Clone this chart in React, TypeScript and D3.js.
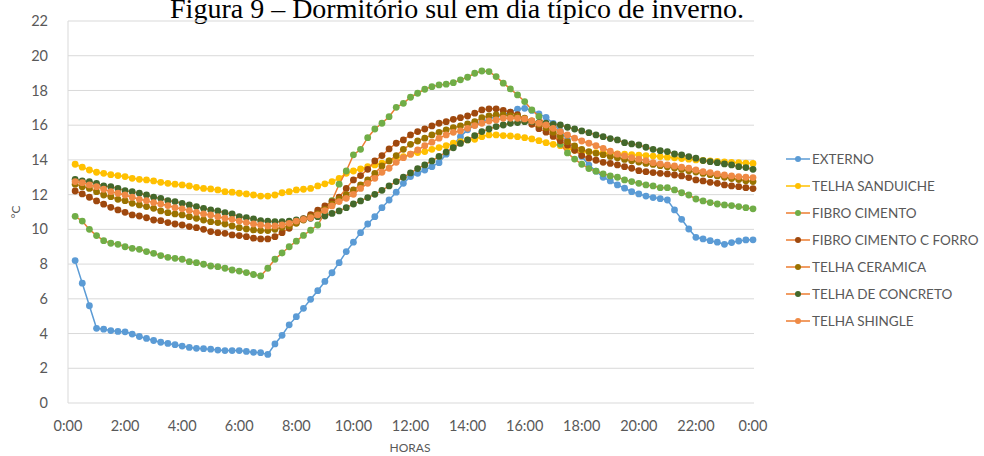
import React from "react";
import * as d3 from "d3";

// Readings every 15 minutes, from 0:15 to 24:00 (96 per series)
const externo = [
  8.2, 6.9, 5.6, 4.3, 4.25, 4.17, 4.12, 4.1, 3.97, 3.83, 3.72, 3.6, 3.5, 3.43, 3.36, 3.28, 3.2, 3.15, 3.13,
  3.1, 3.05, 3.02, 3.02, 3.02, 2.97, 2.92, 2.9, 2.8, 3.4, 3.9, 4.5, 4.97, 5.45, 5.97, 6.47, 7.0, 7.5, 8.08,
  8.72, 9.26, 9.81, 10.31, 10.73, 11.25, 11.69, 12.14, 12.65, 13.04, 13.23, 13.42, 13.61, 13.84, 14.33, 14.86, 15.34, 15.73,
  16.0, 16.2, 16.35, 16.5, 16.6, 16.75, 16.93, 16.97, 16.85, 16.65, 16.45, 16.1, 15.65, 15.15, 14.65, 14.2, 13.7, 13.35, 13.0,
  12.79, 12.56, 12.37, 12.17, 12.04, 11.92, 11.83, 11.77, 11.69, 11.12, 10.58, 10.02, 9.54, 9.45, 9.35, 9.26, 9.14, 9.24, 9.33, 9.39, 9.4,
];

const telhaSanduiche = [
  13.75, 13.58, 13.42, 13.29, 13.23, 13.15, 13.1, 13.04, 12.94, 12.88, 12.85, 12.79, 12.71, 12.65, 12.6, 12.56, 12.5, 12.42, 12.36,
  12.33, 12.27, 12.17, 12.14, 12.08, 12.04, 11.98, 11.92, 11.92, 11.98, 12.11, 12.17, 12.27, 12.31, 12.36, 12.5, 12.62, 12.75, 12.94,
  13.23, 13.36, 13.48, 13.61, 13.71, 13.81, 13.94, 14.1, 14.19, 14.33, 14.42, 14.48, 14.61, 14.71, 14.82, 14.96, 15.05, 15.15, 15.19,
  15.34, 15.44, 15.44, 15.4, 15.38, 15.34, 15.28, 15.21, 15.11, 14.99, 14.9, 14.82,
  14.65, 14.55, 14.5, 14.45, 14.42, 14.4, 14.38, 14.35, 14.33, 14.3, 14.28, 14.25, 14.22, 14.19, 14.16, 14.12, 14.08, 14.04, 14.0,
  13.97, 13.94, 13.91, 13.88, 13.86, 13.84, 13.82, 13.8,
];

const fibroCimento = [
  10.75, 10.48, 10.0, 9.64, 9.35, 9.2, 9.14, 9.0, 8.91, 8.85, 8.72, 8.62, 8.49, 8.39, 8.33, 8.28, 8.14, 8.08, 7.99,
  7.89, 7.85, 7.76, 7.66, 7.6, 7.51, 7.4, 7.32,
  7.76, 8.28, 8.64, 9.0, 9.32, 9.65, 9.95, 10.25, 10.95, 11.65, 12.6,
  13.36, 14.29, 14.61, 15.28, 15.78, 16.11, 16.49, 17.03, 17.26, 17.61, 17.84, 18.07, 18.22, 18.32, 18.36, 18.45, 18.61, 18.76, 18.99,
  19.12, 19.09, 18.8, 18.42, 18.09, 17.74, 17.36, 16.88, 16.5, 16.0, 15.45, 14.9, 14.4, 14.05, 13.75, 13.5, 13.35, 13.2, 13.08,
  13.0, 12.85, 12.75, 12.65, 12.56, 12.5, 12.4, 12.4, 12.27, 12.11, 11.98, 11.75, 11.64, 11.54, 11.46, 11.41, 11.37, 11.31, 11.25, 11.18,
];

const fibroCimentoForro = [
  12.21, 12.04, 11.85, 11.64, 11.45, 11.27, 11.12, 10.98, 10.83, 10.77, 10.67, 10.54, 10.5, 10.39, 10.31, 10.25, 10.16, 10.1, 10.0,
  9.87, 9.81, 9.77, 9.68, 9.64, 9.58, 9.49, 9.45, 9.45,
  9.58, 9.81, 10.06, 10.4, 10.62, 10.85, 11.1, 11.35, 11.6, 11.85,
  12.36, 12.85, 13.1, 13.46, 13.94, 14.25, 14.63, 14.96, 15.15, 15.44, 15.63, 15.78, 15.96, 16.11, 16.2, 16.34, 16.43, 16.53, 16.69,
  16.88, 16.94, 16.94, 16.85, 16.75, 16.6, 16.35, 16.05, 15.8, 15.6, 15.35, 15.1, 14.85, 14.55, 14.25, 14.1, 13.98, 13.86, 13.8,
  13.71, 13.61, 13.52, 13.38, 13.32, 13.27, 13.23, 13.19, 13.13, 13.08, 12.98, 12.85, 12.79, 12.71, 12.65, 12.56, 12.5, 12.46, 12.4, 12.35,
];

const telhaCeramica = [
  12.6, 12.46, 12.36, 12.17, 11.98, 11.88, 11.73, 11.65, 11.5, 11.41, 11.31, 11.21, 11.06, 10.96, 10.89, 10.83, 10.73, 10.64, 10.54,
  10.44, 10.39, 10.31, 10.2, 10.1, 10.02, 9.97, 9.93, 9.93,
  10.0, 10.12, 10.2, 10.35, 10.54, 10.73, 10.89, 11.15, 11.45, 11.75,
  12.0, 12.27, 12.56, 12.85, 13.23, 13.65, 13.94, 14.25, 14.61, 14.9, 15.09, 15.25, 15.44, 15.59, 15.73, 15.86, 15.96, 16.07, 16.2,
  16.43, 16.53, 16.59, 16.59, 16.55, 16.5, 16.4, 16.25, 16.05, 15.85, 15.6, 15.35, 15.05, 14.8, 14.6, 14.48, 14.38, 14.3,
  14.2, 14.12, 14.03, 13.95, 13.88, 13.8, 13.74, 13.67, 13.6, 13.53, 13.45, 13.38, 13.3, 13.22, 13.15, 13.08, 13.0, 12.93, 12.87, 12.8, 12.75,
];

const telhaConcreto = [
  12.88, 12.79, 12.75, 12.65, 12.5, 12.46, 12.36, 12.23, 12.17, 12.08, 11.98, 11.85, 11.79, 11.65, 11.6, 11.5, 11.41, 11.31, 11.21,
  11.12, 11.06, 10.96, 10.89, 10.73, 10.67, 10.6, 10.5, 10.48, 10.44, 10.44, 10.48, 10.54, 10.6, 10.64, 10.73, 10.77, 10.92, 11.06,
  11.25, 11.46, 11.64, 11.83, 12.02, 12.25, 12.5, 12.75, 13.0, 13.25, 13.5, 13.71, 13.94, 14.2, 14.45, 14.7, 14.95, 15.15, 15.4,
  15.63, 15.78, 15.92, 16.01, 16.11, 16.15, 16.2, 16.2, 16.15, 16.11, 16.05, 16.01, 15.88, 15.78, 15.67, 15.57, 15.44, 15.34, 15.23,
  15.15, 14.99, 14.92, 14.86, 14.73, 14.61, 14.53, 14.48, 14.34, 14.29, 14.19, 14.1, 13.96, 13.9, 13.84, 13.77, 13.71, 13.61, 13.56, 13.46,
];

const telhaShingle = [
  12.75, 12.69, 12.56, 12.46, 12.31, 12.17, 12.08, 11.98, 11.85, 11.73, 11.65, 11.54, 11.46, 11.37, 11.25, 11.18, 11.08, 10.98, 10.89,
  10.83, 10.73, 10.64, 10.58, 10.48, 10.39, 10.31, 10.25, 10.2, 10.2, 10.25, 10.35, 10.48, 10.58, 10.67, 10.83, 11.08, 11.35, 11.6,
  11.79, 12.02, 12.36, 12.65, 12.94, 13.29, 13.52, 13.86, 14.13, 14.33, 14.57, 14.82, 15.02, 15.25, 15.44, 15.59, 15.67, 15.82, 15.98,
  16.11, 16.24, 16.3, 16.4, 16.4, 16.4, 16.36, 16.24, 16.11, 16.01, 15.82, 15.63, 15.44, 15.25, 15.09, 14.96, 14.82, 14.67, 14.5,
  14.33, 14.23, 14.13, 14.04, 13.96, 13.84, 13.77, 13.71, 13.65, 13.58, 13.52, 13.42, 13.32, 13.27, 13.19, 13.13, 13.08, 13.04, 13.0, 12.98,
];

const seriesNames = [
  "EXTERNO",
  "TELHA SANDUICHE",
  "FIBRO CIMENTO",
  "FIBRO CIMENTO C FORRO",
  "TELHA CERAMICA",
  "TELHA DE CONCRETO",
  "TELHA SHINGLE",
];
const seriesValues = [
  externo,
  telhaSanduiche,
  fibroCimento,
  fibroCimentoForro,
  telhaCeramica,
  telhaConcreto,
  telhaShingle,
];
const lineColors = ["#5B9BD5", "#FFC000", "#ED7D31", "#ED7D31", "#ED7D31", "#ED7D31", "#ED7D31"];
const markerColors = ["#5B9BD5", "#FFC000", "#70AD47", "#9E480E", "#997300", "#43682B", "#EF8A45"];

const xTickHours = [0, 2, 4, 6, 8, 10, 12, 14, 16, 18, 20, 22, 24];
const xTickLabels = ["0:00", "2:00", "4:00", "6:00", "8:00", "10:00", "12:00", "14:00", "16:00", "18:00", "20:00", "22:00", "0:00"];
const yTicks = [0, 2, 4, 6, 8, 10, 12, 14, 16, 18, 20, 22];

const title = "Figura 9 – Dormitório sul em dia típico de inverno.";
const xTitle = "HORAS";
const yTitle = "°C";

const W = 984;
const H = 456;
const plot = { left: 68, right: 753, top: 21, bottom: 403 };
const axisFont = "Lato, 'Open Sans', sans-serif";
const textColor = "#595959";
const gridColor = "#D9D9D9";

export default function App() {
  const x = d3.scaleLinear().domain([0, 24]).range([plot.left, plot.right]);
  const y = d3.scaleLinear().domain([0, 22]).range([plot.bottom, plot.top]);

  const hourOf = (i: number) => (i + 1) * 0.25;
  const line = d3
    .line<number>()
    .x((_, i) => x(hourOf(i)))
    .y((v) => y(v));

  const legendX = 786;
  const legendY0 = 159;
  const legendStep = 27;

  return (
    <svg
      width={W}
      height={H}
      style={{ position: "absolute", left: 0, top: 0, background: "#fff" }}
    >
      <rect x={0} y={0} width={W} height={H} fill="#fff" />
      <text
        x={457}
        y={18}
        textAnchor="middle"
        fontFamily="'Liberation Serif', 'Times New Roman', serif"
        fontSize={28}
        fill="#000"
      >
        {title}
      </text>

      {/* horizontal gridlines */}
      {yTicks.map((t) => (
        <line
          key={"g" + t}
          x1={plot.left}
          x2={plot.right + 1}
          y1={y(t)}
          y2={y(t)}
          stroke={gridColor}
          strokeWidth={1}
        />
      ))}
      {/* left axis line */}
      <line x1={plot.left} x2={plot.left} y1={plot.top} y2={plot.bottom} stroke={gridColor} strokeWidth={1} />

      {/* y tick labels */}
      {yTicks.map((t) => (
        <text
          key={"yl" + t}
          x={48}
          y={y(t)}
          dy="0.35em"
          textAnchor="end"
          fontFamily={axisFont}
          fontSize={14.5}
          fill={textColor}
        >
          {t}
        </text>
      ))}

      {/* x tick labels */}
      {xTickHours.map((h, i) => (
        <text
          key={"xl" + i}
          x={x(h)}
          y={431}
          textAnchor="middle"
          fontFamily={axisFont}
          fontSize={14.5}
          fill={textColor}
        >
          {xTickLabels[i]}
        </text>
      ))}

      <text x={410} y={452} textAnchor="middle" fontFamily={axisFont} fontSize={12} fill={textColor}>
        {xTitle}
      </text>
      <text
        transform={`translate(20, 212) rotate(-90)`}
        textAnchor="middle"
        fontFamily={axisFont}
        fontSize={12}
        fill={textColor}
      >
        {yTitle}
      </text>

      {/* series */}
      {seriesValues.map((vals, s) => (
        <g key={"s" + s}>
          <path d={line(vals) || ""} fill="none" stroke={lineColors[s]} strokeWidth={1.5} />
          {vals.map((v, i) => (
            <circle key={i} cx={x(hourOf(i))} cy={y(v)} r={3.4} fill={markerColors[s]} />
          ))}
        </g>
      ))}

      {/* legend */}
      {seriesNames.map((name, s) => {
        const ly = legendY0 + s * legendStep;
        return (
          <g key={"lg" + s}>
            <line x1={legendX} x2={legendX + 24} y1={ly} y2={ly} stroke={lineColors[s]} strokeWidth={1.5} />
            <circle cx={legendX + 12} cy={ly} r={3} fill={markerColors[s]} />
            <text
              x={legendX + 26}
              y={ly}
              dy="0.35em"
              fontFamily={axisFont}
              fontSize={13.5}
              fill={textColor}
            >
              {name}
            </text>
          </g>
        );
      })}
    </svg>
  );
}
